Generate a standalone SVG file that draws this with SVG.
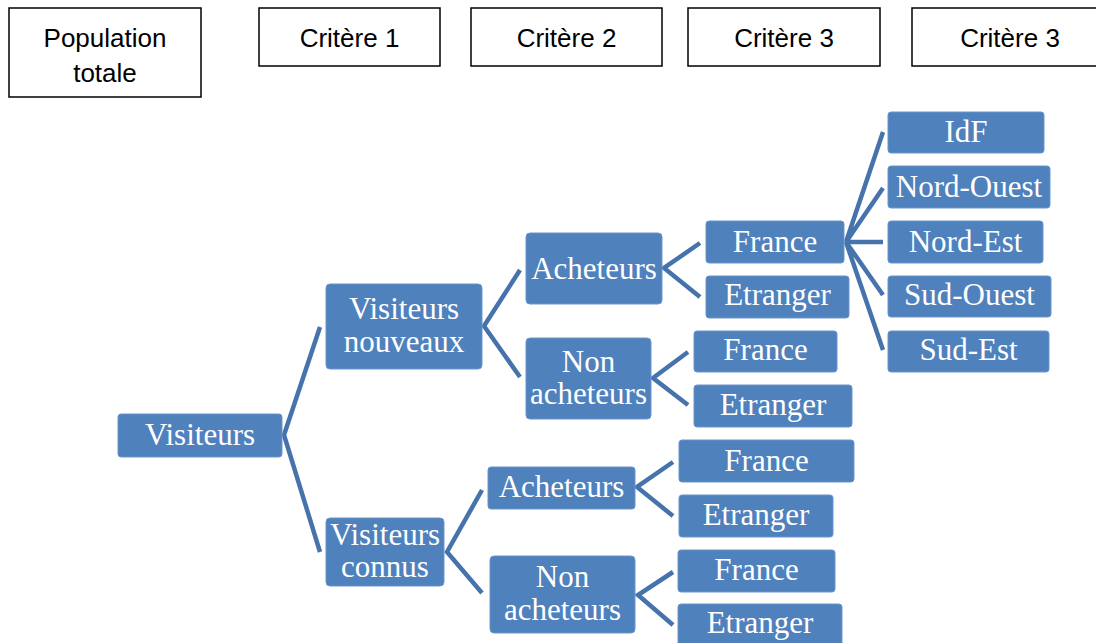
<svg xmlns="http://www.w3.org/2000/svg" width="1096" height="643" viewBox="0 0 1096 643">
<style>
.hdr{fill:#fff;stroke:#000;stroke-width:1.5}
.ht{font-family:"Liberation Sans",Arial,sans-serif;font-size:26px;fill:#000;text-anchor:middle}
.nb{fill:#4F81BD;stroke:#6a95cc;stroke-width:1}
.nt{font-family:"Liberation Serif","Times New Roman",serif;font-size:31px;fill:#fff;text-anchor:middle}
.cn{fill:none;stroke:#4673AC;stroke-width:4.5;stroke-linejoin:miter}
</style>
<rect width="1096" height="643" fill="#fff"/>
<g id="headers">
<g id="h-pop"><rect class="hdr" x="9" y="8" width="192" height="89"/><text class="ht" x="105" y="47">Population</text><text class="ht" x="105" y="82">totale</text></g>
<g id="h-c1"><rect class="hdr" x="259" y="8" width="181" height="58"/><text class="ht" x="349.5" y="47">Critère 1</text></g>
<g id="h-c2"><rect class="hdr" x="471" y="8" width="191" height="58"/><text class="ht" x="566.5" y="47">Critère 2</text></g>
<g id="h-c3"><rect class="hdr" x="688" y="8" width="192" height="58"/><text class="ht" x="784" y="47">Critère 3</text></g>
<g id="h-c4"><rect class="hdr" x="912" y="8" width="200" height="58"/><text class="ht" x="1010" y="47">Critère 3</text></g>
</g>
<g id="connectors">
<path class="cn" d="M320,327 L284,435 L320,552"/>
<path class="cn" d="M520,270 L484,326 L520,377"/>
<path class="cn" d="M482,490 L447,552 L482,593"/>
<path class="cn" d="M700,243 L664,268 L700,297"/>
<path class="cn" d="M688,352 L653,378 L688,405"/>
<path class="cn" d="M673,462 L637,487 L673,516"/>
<path class="cn" d="M673,572 L638,595 L673,625"/>
<path class="cn" d="M883,132 L846,242 L883,188 M846,242 L883,242 M883,295 L846,242 L883,350"/>
</g>
<g id="n-visiteurs"><rect class="nb" x="118" y="414" width="164" height="43" rx="3"/><text class="nt" x="200" y="445">Visiteurs</text></g>
<g id="n-vn"><rect class="nb" x="326" y="284" width="156" height="85" rx="4"/><text class="nt" x="404" y="319">Visiteurs</text><text class="nt" x="404" y="352">nouveaux</text></g>
<g id="n-vc"><rect class="nb" x="326" y="518" width="118" height="68" rx="4"/><text class="nt" x="385" y="545">Visiteurs</text><text class="nt" x="385" y="577">connus</text></g>
<g id="n-a1"><rect class="nb" x="526" y="233" width="136" height="71" rx="4"/><text class="nt" x="594" y="279">Acheteurs</text></g>
<g id="n-na1"><rect class="nb" x="526" y="338" width="125" height="81" rx="4"/><text class="nt" x="588.5" y="372">Non</text><text class="nt" x="588.5" y="404">acheteurs</text></g>
<g id="n-a2"><rect class="nb" x="488" y="467" width="147" height="42" rx="3"/><text class="nt" x="561.5" y="497">Acheteurs</text></g>
<g id="n-na2"><rect class="nb" x="490" y="556" width="145" height="77" rx="4"/><text class="nt" x="562.5" y="587">Non</text><text class="nt" x="562.5" y="620">acheteurs</text></g>
<g id="n-f1"><rect class="nb" x="706" y="221" width="138" height="42" rx="3"/><text class="nt" x="775" y="252">France</text></g>
<g id="n-e1"><rect class="nb" x="706" y="276" width="143" height="42" rx="3"/><text class="nt" x="777.5" y="305">Etranger</text></g>
<g id="n-f2"><rect class="nb" x="694" y="331" width="143" height="41" rx="3"/><text class="nt" x="765.5" y="360">France</text></g>
<g id="n-e2"><rect class="nb" x="694" y="385" width="158" height="42" rx="3"/><text class="nt" x="773" y="415">Etranger</text></g>
<g id="n-f3"><rect class="nb" x="679" y="440" width="175" height="42" rx="3"/><text class="nt" x="766.5" y="471">France</text></g>
<g id="n-e3"><rect class="nb" x="679" y="495" width="154" height="42" rx="3"/><text class="nt" x="756" y="525">Etranger</text></g>
<g id="n-f4"><rect class="nb" x="678" y="550" width="157" height="42" rx="3"/><text class="nt" x="756.5" y="580">France</text></g>
<g id="n-e4"><rect class="nb" x="678" y="604" width="164" height="45" rx="3"/><text class="nt" x="760" y="633">Etranger</text></g>
<g id="n-idf"><rect class="nb" x="888" y="112" width="156" height="41" rx="3"/><text class="nt" x="966" y="142">IdF</text></g>
<g id="n-no"><rect class="nb" x="888" y="166" width="162" height="42" rx="3"/><text class="nt" x="969" y="197">Nord-Ouest</text></g>
<g id="n-ne"><rect class="nb" x="888" y="221" width="155" height="42" rx="3"/><text class="nt" x="965.5" y="252">Nord-Est</text></g>
<g id="n-so"><rect class="nb" x="888" y="276" width="163" height="41" rx="3"/><text class="nt" x="969.5" y="305">Sud-Ouest</text></g>
<g id="n-se"><rect class="nb" x="888" y="331" width="161" height="41" rx="3"/><text class="nt" x="968.5" y="360">Sud-Est</text></g>
</svg>
